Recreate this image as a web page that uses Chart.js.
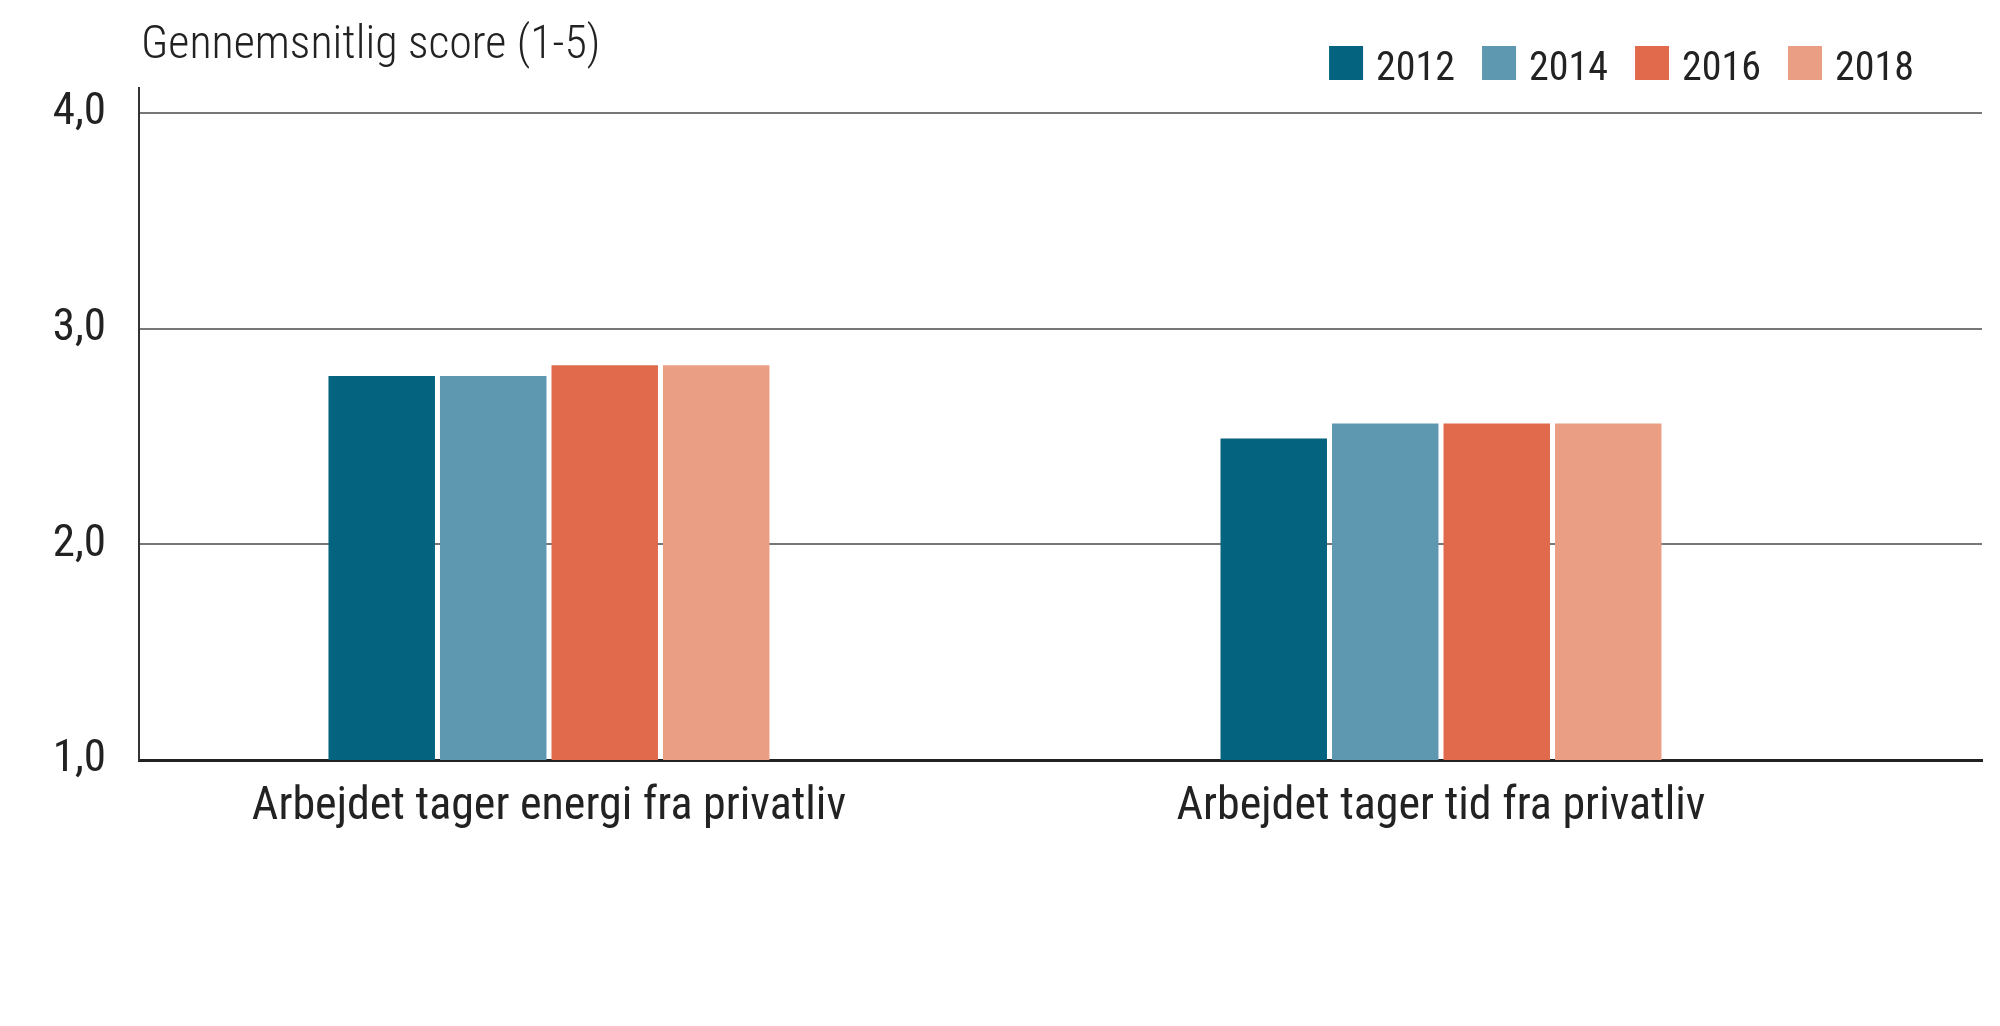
<!DOCTYPE html>
<html>
<head>
<meta charset="utf-8">
<script src="https://cdn.jsdelivr.net/npm/chart.js@4"></script>
<style>
  body { margin: 0; background: #fff; }
  #wrap { width: 2000px; height: 1026px; }
</style>
</head>
<body>
<div id="wrap"><canvas id="myChart"></canvas></div>
<script>
const categories = ["Arbejdet tager energi fra privatliv", "Arbejdet tager tid fra privatliv"];
const years = ["2012", "2014", "2016", "2018"];
const values2012 = [2.78, 2.49];
const values2014 = [2.78, 2.56];
const values2016 = [2.83, 2.56];
const values2018 = [2.83, 2.56];
const yTicks = [1, 2, 3, 4];
const yTitle = "Gennemsnitlig score (1-5)";

const colors = ["#04647f", "#5e97b0", "#e16a4d", "#ea9e84"];
const FONT = "'Roboto Condensed', Roboto, sans-serif";
const TEXT = "#222222";

const series = [values2012, values2014, values2016, values2018];

// title + legend drawn on top
const headerPlugin = {
    id: 'header',
    afterDraw(chart) {
        const ctx = chart.ctx;
        ctx.save();
        ctx.fillStyle = TEXT;
        ctx.textBaseline = 'alphabetic';
        ctx.textAlign = 'left';
        ctx.font = "300 46px " + FONT;
        ctx.fillText(yTitle, chart.chartArea.left + 2, 58);

        ctx.font = "400 40px " + FONT;
        const box = 34, gapText = 13, gapItem = 27;
        const items = chart.data.datasets.map(ds => ({
            label: ds.label, color: ds.backgroundColor,
            w: box + gapText + ctx.measureText(ds.label).width
        }));
        const total = items.reduce((s, it) => s + it.w, 0) + gapItem * (items.length - 1);
        let x = 1914 - total;
        items.forEach(it => {
            ctx.fillStyle = it.color;
            ctx.fillRect(x, 46, box, box);
            ctx.fillStyle = TEXT;
            ctx.fillText(it.label, x + box + gapText, 80);
            x += it.w + gapItem;
        });
        ctx.restore();
    }
};

const ctx = document.getElementById('myChart').getContext('2d');
const myChart = new Chart(ctx, {
    type: 'bar',
    data: {
        datasets: years.map((y, k) => ({
            label: y,
            data: categories.map((c, i) => ({ x: i, y: series[k][i] })),
            backgroundColor: colors[k],
            borderWidth: 0,
            categoryPercentage: 0.5,
            barPercentage: 0.955
        }))
    },
    options: {
        responsive: true,
        maintainAspectRatio: false,
        devicePixelRatio: 1,
        animation: false,
        layout: { padding: { top: 88, right: 18, left: 0, bottom: 0 } },
        plugins: {
            legend: { display: false },
            tooltip: { enabled: false }
        },
        scales: {
            x: {
                type: 'linear',
                bounds: 'data',
                offset: false,
                min: -0.4596,
                max: 1.6065,
                grid: { display: false, drawTicks: false, offset: false },
                border: { display: true, color: '#222222', width: 3 },
                afterBuildTicks: s => { s.ticks = categories.map((c, i) => ({ value: i })); },
                ticks: {
                    autoSkip: false,
                    maxRotation: 0,
                    padding: 20,
                    color: TEXT,
                    font: { family: FONT, size: 46 },
                    callback: v => categories[v] !== undefined ? categories[v] : ''
                },
                afterFit: s => { s.height = 266; }
            },
            y: {
                min: yTicks[0],
                max: 4.115,
                grid: { color: '#777777', lineWidth: 2, drawTicks: false },
                border: { display: true, color: '#333333', width: 2 },
                afterBuildTicks: s => { s.ticks = yTicks.map(v => ({ value: v })); },
                ticks: {
                    padding: 33,
                    color: TEXT,
                    font: { family: FONT, size: 45 },
                    callback: v => v.toFixed(1).replace('.', ',')
                },
                afterFit: s => { s.width = 139; }
            }
        }
    },
    plugins: [headerPlugin]
});
</script>
</body>
</html>
